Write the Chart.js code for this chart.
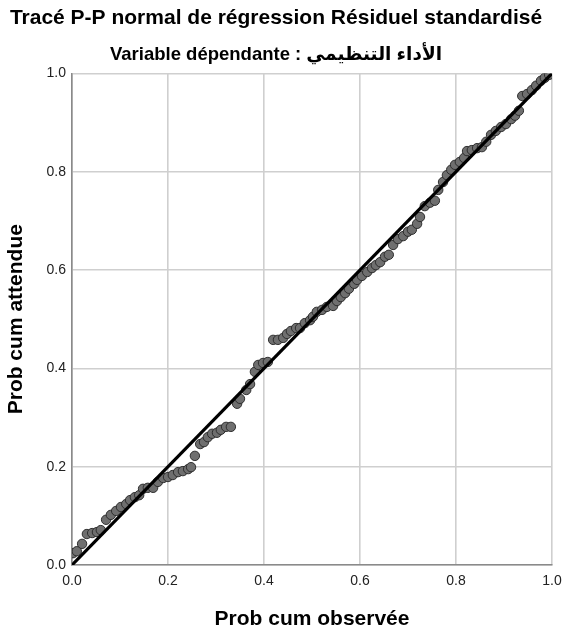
<!DOCTYPE html>
<html>
<head>
<meta charset="utf-8">
<script src="https://cdn.jsdelivr.net/npm/chart.js@4/dist/chart.umd.min.js"></script>
<style>
  html, body { margin: 0; padding: 0; background: #ffffff; }
  #wrap { width: 563px; height: 634px; }
</style>
</head>
<body>
<div id="wrap"><canvas id="c" width="563" height="634"></canvas></div>
<script>
// Observed cumulative probability (x) and expected cumulative probability (y)
const observedCum = [
  0.002, 0.010, 0.021, 0.031, 0.042, 0.052, 0.060, 0.071, 0.081, 0.092,
  0.102, 0.113, 0.121, 0.131, 0.140, 0.148, 0.158, 0.169, 0.179, 0.190,
  0.200, 0.210, 0.221, 0.231, 0.242, 0.248, 0.256, 0.267, 0.275, 0.283,
  0.292, 0.302, 0.310, 0.321, 0.331, 0.344, 0.350, 0.363, 0.371, 0.381,
  0.388, 0.398, 0.408, 0.419, 0.429, 0.440, 0.448, 0.456, 0.467, 0.475,
  0.485, 0.496, 0.502, 0.510, 0.521, 0.531, 0.544, 0.552, 0.560, 0.569,
  0.577, 0.588, 0.594, 0.604, 0.615, 0.625, 0.633, 0.642, 0.652, 0.660,
  0.669, 0.679, 0.690, 0.700, 0.708, 0.719, 0.725, 0.735, 0.746, 0.756,
  0.763, 0.773, 0.781, 0.790, 0.798, 0.808, 0.817, 0.823, 0.833, 0.844,
  0.854, 0.863, 0.873, 0.883, 0.894, 0.904, 0.915, 0.923, 0.931, 0.938,
  0.948, 0.958, 0.967, 0.977, 0.985, 0.994
];
const expectedCum = [
  0.024, 0.028, 0.043, 0.063, 0.065, 0.067, 0.071, 0.092, 0.102, 0.110,
  0.118, 0.124, 0.132, 0.138, 0.142, 0.155, 0.157, 0.157, 0.169, 0.177,
  0.179, 0.183, 0.189, 0.191, 0.195, 0.199, 0.222, 0.246, 0.250, 0.260,
  0.267, 0.269, 0.275, 0.281, 0.281, 0.328, 0.338, 0.356, 0.368, 0.393,
  0.407, 0.411, 0.413, 0.458, 0.458, 0.462, 0.470, 0.476, 0.482, 0.482,
  0.492, 0.498, 0.505, 0.515, 0.519, 0.525, 0.527, 0.537, 0.545, 0.553,
  0.562, 0.572, 0.580, 0.588, 0.596, 0.604, 0.610, 0.616, 0.627, 0.631,
  0.651, 0.663, 0.669, 0.678, 0.682, 0.694, 0.708, 0.730, 0.737, 0.741,
  0.763, 0.779, 0.793, 0.804, 0.814, 0.820, 0.828, 0.842, 0.844, 0.848,
  0.850, 0.861, 0.875, 0.883, 0.891, 0.897, 0.907, 0.914, 0.924, 0.954,
  0.958, 0.966, 0.975, 0.985, 0.991, 0.997
];
// Reference diagonal
const refX = [0, 1];
const refY = [0, 1];
const tickValues = [0.0, 0.2, 0.4, 0.6, 0.8, 1.0];

const titleText = 'Tracé P-P normal de régression Résiduel standardisé';
const subtitleText = 'Variable dépendante : الأداء التنظيمي';
const xTitle = 'Prob cum observée';
const yTitle = 'Prob cum attendue';

const FONT = '"Liberation Sans", Arial, "DejaVu Sans", sans-serif';

const points = observedCum.map((x, i) => ({ x: x, y: expectedCum[i] }));
const refLine = refX.map((x, i) => ({ x: x, y: refY[i] }));

new Chart(document.getElementById('c'), {
  type: 'scatter',
  data: {
    datasets: [
      {
        label: 'ref',
        data: refLine,
        showLine: true,
        borderColor: '#000000',
        borderWidth: 3.2,
        pointRadius: 0,
        order: 0
      },
      {
        label: 'pts',
        data: points,
        backgroundColor: '#6f6f6f',
        borderColor: '#2e2e2e',
        borderWidth: 1,
        pointRadius: 4.7,
        order: 1
      }
    ]
  },
  options: {
    responsive: false,
    animation: false,
    devicePixelRatio: 1,
    layout: { padding: { left: 0, right: 11, top: 0, bottom: 0 } },
    plugins: {
      legend: { display: false },
      tooltip: { enabled: false },
      title: {
        display: true,
        text: titleText,
        color: '#000000',
        font: { family: FONT, size: 21, weight: 'bold' },
        padding: { top: 6, bottom: 13 }
      },
      subtitle: {
        display: true,
        text: subtitleText,
        color: '#000000',
        font: { family: FONT, size: 18.5, weight: 'bold' },
        padding: { top: 0, bottom: 7 }
      }
    },
    scales: {
      x: {
        type: 'linear',
        min: 0, max: 1,
        afterFit: (s) => { s.height = 69; s.paddingLeft = 0; s.paddingRight = 0; },
        afterBuildTicks: (s) => { s.ticks = tickValues.map(v => ({ value: v })); },
        grid: { color: '#cfcfcf', lineWidth: 1.6, drawTicks: false },
        border: { color: '#8a8a8a', width: 1.6 },
        ticks: {
          color: '#222222',
          padding: 8,
          font: { family: FONT, size: 14 },
          callback: (v) => Number(v).toFixed(1),
          maxRotation: 0
        },
        title: {
          display: true,
          text: xTitle,
          color: '#000000',
          font: { family: FONT, size: 21, weight: 'bold' },
          padding: { top: 0, bottom: 2 }
        }
      },
      y: {
        type: 'linear',
        min: 0, max: 1,
        afterFit: (s) => { s.width = 72; s.paddingTop = 0; s.paddingBottom = 0; },
        afterBuildTicks: (s) => { s.ticks = tickValues.map(v => ({ value: v })); },
        grid: { color: '#cfcfcf', lineWidth: 1.6, drawTicks: false },
        border: { color: '#8a8a8a', width: 1.6 },
        ticks: {
          color: '#222222',
          padding: 6,
          font: { family: FONT, size: 14 },
          callback: (v) => Number(v).toFixed(1)
        },
        title: {
          display: true,
          text: yTitle,
          color: '#000000',
          font: { family: FONT, size: 21, weight: 'bold' },
          padding: { top: 4, bottom: 0 }
        }
      }
    }
  }
});
</script>
</body>
</html>
